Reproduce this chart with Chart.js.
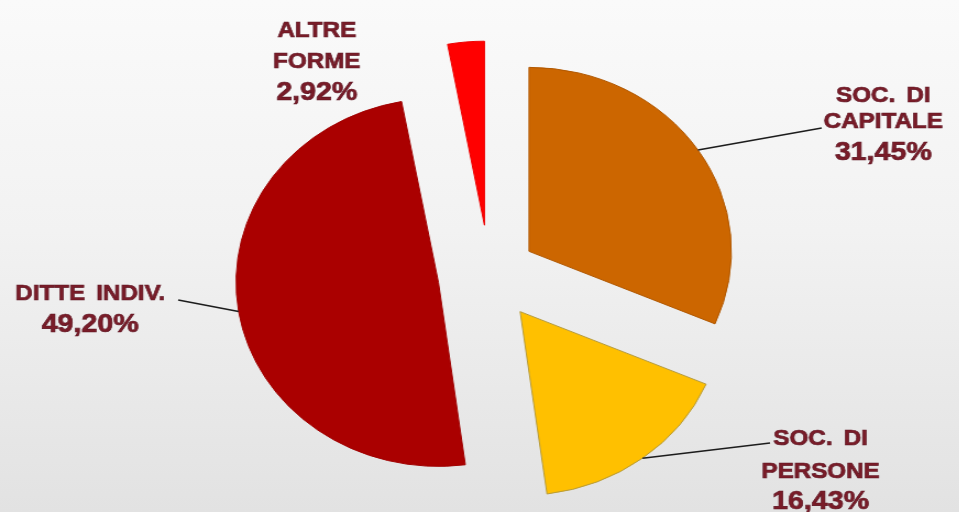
<!DOCTYPE html>
<html>
<head>
<meta charset="utf-8">
<script src="https://cdn.jsdelivr.net/npm/chart.js@4/dist/chart.umd.min.js"></script>
<style>
    html, body { margin: 0; padding: 0; }
    body {
        width: 959px; height: 512px; overflow: hidden; position: relative;
        background: linear-gradient(to bottom, #fafafa 0%, #f2f2f2 45%, #e2e2e2 100%);
    }
    /* the original picture is stretched ~10% horizontally, so the whole chart is too */
    #wrap {
        position: absolute; left: 0; top: 0;
        width: 872px; height: 512px;
        transform: scaleX(1.1); transform-origin: 0 0;
    }
</style>
</head>
<body>
<div id="wrap"><canvas id="pie"></canvas></div>
<script>
const categories = ['SOC. DI CAPITALE', 'SOC. DI PERSONE', 'DITTE INDIV.', 'ALTRE FORME'];
const labelLines = [['SOC. DI', 'CAPITALE'], ['SOC. DI', 'PERSONE'], ['DITTE INDIV.'], ['ALTRE', 'FORME']];
const shares = [31.45, 16.43, 49.20, 2.92];

const colors  = ['#cc6600', '#ffc000', '#aa0000', '#ff0000'];
const borders = ['#b05800', '#b59a3a', '#a00000', '#ee0000'];
const explode = [43, 46, 47, 50]; // distanza di esplosione per fetta

// posizione delle etichette (coordinate del canvas non scalato)
const labelLayout = [
    { x: 803, base: [102, 128, 160], lineTo: [747, 128] },
    { x: 746, base: [445, 478, 509], lineTo: [700, 443] },
    { x: 82,  base: [300, 332],      lineTo: [162, 300] },
    { x: 288, base: [37, 68, 100],   lineTo: null }
];

const fmtPct = v => v.toFixed(2).replace('.', ',') + '%';

// sposta ogni fetta lungo la sua bisettrice (senza ingrandire il raggio)
const explodePlugin = {
    id: 'explode',
    afterDatasetUpdate(chart, args) {
        args.meta.data.forEach((arc, i) => {
            const mid = (arc.startAngle + arc.endAngle) / 2;
            arc.x += Math.cos(mid) * explode[i];
            arc.y += Math.sin(mid) * explode[i];
        });
    }
};

const labelPlugin = {
    id: 'sliceLabels',
    afterDatasetsDraw(chart) {
        const ctx = chart.ctx;
        const arcs = chart.getDatasetMeta(0).data;
        ctx.save();
        arcs.forEach((arc, i) => {
            const lay = labelLayout[i];
            if (lay.lineTo) {
                const mid = (arc.startAngle + arc.endAngle) / 2;
                ctx.beginPath();
                ctx.moveTo(arc.x + Math.cos(mid) * arc.outerRadius, arc.y + Math.sin(mid) * arc.outerRadius);
                ctx.lineTo(lay.lineTo[0], lay.lineTo[1]);
                ctx.strokeStyle = '#1c1c1c';
                ctx.lineWidth = 1.6;
                ctx.stroke();
            }
            const lines = labelLines[i].concat([fmtPct(shares[i])]);
            ctx.fillStyle = '#7a1c28';
            ctx.strokeStyle = '#5c1422';
            ctx.lineWidth = 0.7;
            ctx.textAlign = 'center';
            ctx.textBaseline = 'alphabetic';
            lines.forEach((t, k) => {
                const isPct = k === lines.length - 1;
                ctx.font = isPct ? 'bold 26px "Liberation Sans", Arial, sans-serif'
                                 : 'bold 22px "Liberation Sans", Arial, sans-serif';
                ctx.wordSpacing = isPct ? '0px' : '4px';
                ctx.fillText(t, lay.x, lay.base[k]);
                ctx.strokeText(t, lay.x, lay.base[k]);
            });
        });
        ctx.restore();
    }
};

new Chart(document.getElementById('pie'), {
    type: 'pie',
    data: {
        labels: categories,
        datasets: [{
            data: shares,
            backgroundColor: colors,
            borderColor: borders,
            borderWidth: 1
        }]
    },
    options: {
        responsive: true,
        maintainAspectRatio: false,
        animation: false,
        radius: 184,
        layout: { padding: { left: 18, top: 38, right: 0, bottom: 0 } },
        plugins: {
            legend: { display: false },
            tooltip: { enabled: false }
        }
    },
    plugins: [explodePlugin, labelPlugin]
});
</script>
</body>
</html>
